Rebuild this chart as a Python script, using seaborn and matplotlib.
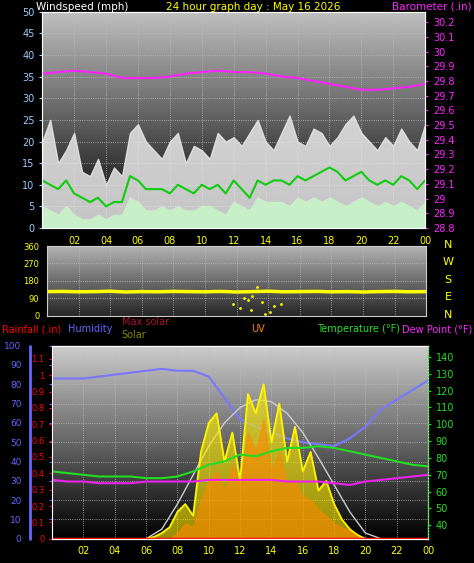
import numpy as np
import matplotlib.pyplot as plt
import seaborn as sns

sns.set_style("dark")
plt.rcParams['font.family'] = ['DejaVu Sans']

# ---- data ----
hours_half = np.arange(0, 24.5, 0.5)
hours = np.arange(0, 25)
gust = [20, 25, 15, 18, 22, 13, 12, 16, 10, 14, 12, 22, 24, 20, 18, 16, 20, 22, 15, 19, 18, 16, 22, 20, 21,
        19, 22, 25, 20, 18, 22, 26, 20, 19, 23, 22, 19, 21, 24, 26, 22, 20, 18, 21, 19, 23, 20, 18, 24]
wind_avg = [11, 10, 9, 11, 8, 7, 6, 7, 5, 6, 6, 12, 11, 9, 9, 9, 8, 10, 9, 8, 10, 9, 10, 8, 11,
            9, 7, 11, 10, 11, 11, 10, 12, 11, 12, 13, 14, 13, 11, 12, 13, 11, 10, 11, 10, 12, 11, 9, 11]
wind_low = [5, 4, 3, 5, 3, 2, 2, 3, 2, 3, 3, 7, 6, 4, 4, 5, 4, 5, 4, 4, 5, 5, 4, 3, 6,
            5, 4, 7, 6, 6, 6, 5, 7, 6, 7, 6, 7, 6, 5, 6, 7, 6, 5, 6, 5, 6, 5, 4, 6]
baro = [29.85, 29.86, 29.87, 29.86, 29.85, 29.82, 29.82, 29.82, 29.83, 29.85, 29.86, 29.87, 29.86,
        29.86, 29.85, 29.83, 29.82, 29.80, 29.78, 29.76, 29.74, 29.74, 29.75, 29.76, 29.78]
wdir = [125, 126, 124, 125, 127, 123, 125, 124, 126, 125, 124, 126, 123, 125, 127, 124,
        125, 126, 124, 125, 123, 125, 126, 124, 125]
scatter_h = [11.8, 12.2, 12.5, 12.9, 13.3, 13.6, 14.1, 14.4, 13.0, 12.7, 13.8, 14.8]
scatter_d = [60, 40, 90, 30, 150, 70, 20, 50, 100, 80, 10, 60]

humidity = [83, 83, 83, 84, 85, 86, 87, 88, 87, 87, 84, 73, 62, 58, 55, 52, 50, 49, 48, 52, 58, 67, 72, 77, 82]
temp = [72, 71, 70, 69, 69, 69, 68, 68, 69, 72, 76, 78, 82, 81, 84, 86, 86, 87, 86, 84, 82, 80, 78, 76, 75]
dew = [67, 66, 66, 65, 65, 65, 66, 66, 66, 66, 67, 67, 67, 67, 67, 66, 66, 66, 65, 64, 66, 67, 68, 69, 70]
max_solar = [0, 0, 0, 0, 0, 0, 0, 5, 18, 33, 48, 60, 68, 72, 71, 65, 55, 42, 28, 14, 3, 0, 0, 0, 0]
solar = [0] * 13 + [1, 3, 6, 14, 18, 12, 45, 60, 65, 40, 55, 30, 75, 65, 80, 50, 70, 40, 58, 35,
                    45, 25, 30, 18, 10, 5, 2, 0] + [0] * 8
uv = [0] * 16 + [3, 8, 6, 20, 30, 35, 25, 38, 28, 55, 45, 62, 35, 45, 28, 30, 22, 20, 15, 12, 8,
                 6, 4, 1, 0] + [0] * 8
rain = [0] * 25

fig = plt.figure(figsize=(4.74, 5.63), dpi=100, facecolor='black')
xt = list(range(2, 26, 2))
xl = ['%02d' % (h % 24) for h in xt]


def bg(ax, lo, hi, top, bottom):
    grad = np.linspace(top, bottom, 100).reshape(-1, 1)
    ax.imshow(grad, cmap='gray', vmin=0, vmax=1, aspect='auto', extent=(0, 24, lo, hi),
              zorder=0, origin='upper')
    ax.set_xlim(0, 24)
    ax.set_ylim(lo, hi)
    ax.grid(True, color='#bbbbbb', linestyle=':', linewidth=0.6, zorder=1)
    ax.set_xticks(xt)
    ax.set_xticklabels(xl)
    ax.tick_params(axis='x', colors='yellow', labelsize=7, length=2)
    for s in ax.spines.values():
        s.set_color('#cccccc')


# ---- wind ----
ax1 = fig.add_axes([0.089, 0.595, 0.808, 0.384])
bg(ax1, 0, 50, 0.75, 0.0)
ax1.fill_between(hours_half, wind_low, gust, color='#e8e8e8', alpha=0.85, zorder=2)
ax1.fill_between(hours_half, 0, wind_low, color='#c8f0c8', zorder=3)
sns.lineplot(x=hours_half, y=wind_avg, ax=ax1, color='#11cc11', linewidth=1.5, zorder=4)
ax1.set_yticks(range(0, 51, 5))
ax1.tick_params(axis='y', colors='#99ccff', labelsize=7, length=2)
ax2 = ax1.twinx()
sns.lineplot(x=hours, y=baro, ax=ax2, color='#ff22ff', linewidth=1.5)
ax2.set_ylim(28.8, 30.27)
ax2.set_yticks(np.round(np.arange(28.8, 30.25, 0.1), 1))
ax2.set_yticklabels(['%g' % v for v in np.round(np.arange(28.8, 30.25, 0.1), 1)])
ax2.tick_params(axis='y', colors='#ff22ff', labelsize=7, length=2)
fig.text(0.076, 0.997, 'Windspeed (mph)', color='white', fontsize=7.5, ha='left', va='top')
fig.text(0.535, 0.997, '24 hour graph day : May 16 2026', color='yellow', fontsize=7.5, ha='center', va='top')
fig.text(0.995, 0.997, 'Barometer (.in)', color='#ff22ff', fontsize=7.5, ha='right', va='top')

# ---- wind direction ----
ax3 = fig.add_axes([0.099, 0.439, 0.8, 0.124])
bg(ax3, 0, 360, 0.7, 0.15)
sns.lineplot(x=hours, y=wdir, ax=ax3, color='yellow', linewidth=2.5)
sns.scatterplot(x=scatter_h, y=scatter_d, ax=ax3, color='yellow', s=4, linewidth=0)
ax3.set_yticks([0, 90, 180, 270, 360])
ax3.set_xticklabels([])
ax3.tick_params(axis='y', colors='yellow', labelsize=6, length=2)
for i, lab in enumerate(['N', 'W', 'S', 'E', 'N']):
    fig.text(0.945, 0.565 - i * 0.031, lab, color='yellow', fontsize=8, ha='center', va='center')

# ---- bottom ----
ax4 = fig.add_axes([0.11, 0.043, 0.793, 0.343])
bg(ax4, 0, 100, 0.8, 0.0)
ax4.set_ylim(0, 100)
sns.lineplot(x=hours, y=humidity, ax=ax4, color='#7777ff', linewidth=1.5)
sns.lineplot(x=hours, y=max_solar, ax=ax4, color='#cccccc', linewidth=1)
ax4.fill_between(hours_half, 0, solar, color='#ffee00', alpha=0.6, zorder=3)
sns.lineplot(x=hours_half, y=solar, ax=ax4, color='yellow', linewidth=1.2)
ax4.fill_between(hours_half, 0, uv, color='#ff8800', alpha=0.6, zorder=3)
ax4.set_yticks(range(0, 101, 10))
ax4.tick_params(axis='y', colors='#6666ff', labelsize=6.5, length=2, pad=20)
ax4.spines['left'].set_visible(False)
ax4.axvline(-1.4, color='#6666ff', lw=2, clip_on=False)

axr = ax4.twinx()
axr.yaxis.set_ticks_position('left')
axr.spines['left'].set_color('red')
axr.spines['left'].set_linestyle(':')
sns.lineplot(x=hours, y=rain, ax=axr, color='red', linewidth=2.5)
axr.set_ylim(0, 1.18)
axr.set_yticks(np.round(np.arange(0, 1.15, 0.1), 1))
axr.set_yticklabels(['%g' % v for v in np.round(np.arange(0, 1.15, 0.1), 1)])
axr.tick_params(axis='y', colors='red', labelsize=6, length=2)

axt = ax4.twinx()
sns.lineplot(x=hours, y=temp, ax=axt, color='#22dd22', linewidth=1.5)
sns.lineplot(x=hours, y=dew, ax=axt, color='#ee22ee', linewidth=1.5)
axt.set_ylim(32, 146.7)
axt.set_yticks(range(40, 141, 10))
axt.tick_params(axis='y', colors='#22dd22', labelsize=7, length=2)
axt.spines['right'].set_color('#22dd22')
axt.spines['right'].set_linestyle(':')
ax4.set_xlim(0, 24)

fs = 7
fig.text(0.004, 0.415, 'Rainfall (.in)', color='red', fontsize=fs, va='center')
fig.text(0.143, 0.415, 'Humidity', color='#6666ff', fontsize=fs, va='center')
fig.text(0.257, 0.428, 'Max solar', color='#aa1133', fontsize=fs, va='center')
fig.text(0.257, 0.405, 'Solar', color='#888800', fontsize=fs, va='center')
fig.text(0.53, 0.415, 'UV', color='#ff8800', fontsize=fs, va='center')
fig.text(0.668, 0.415, 'Temperature (°F)', color='#22dd22', fontsize=fs, va='center')
fig.text(0.997, 0.415, 'Dew Point (°F)', color='#ff22ff', fontsize=fs, va='center', ha='right')

for a in (ax1, ax2, ax3, ax4, axr, axt):
    a.set_xlabel('')
    a.set_ylabel('')

fig.savefig('out.png', dpi=100, facecolor='black')
